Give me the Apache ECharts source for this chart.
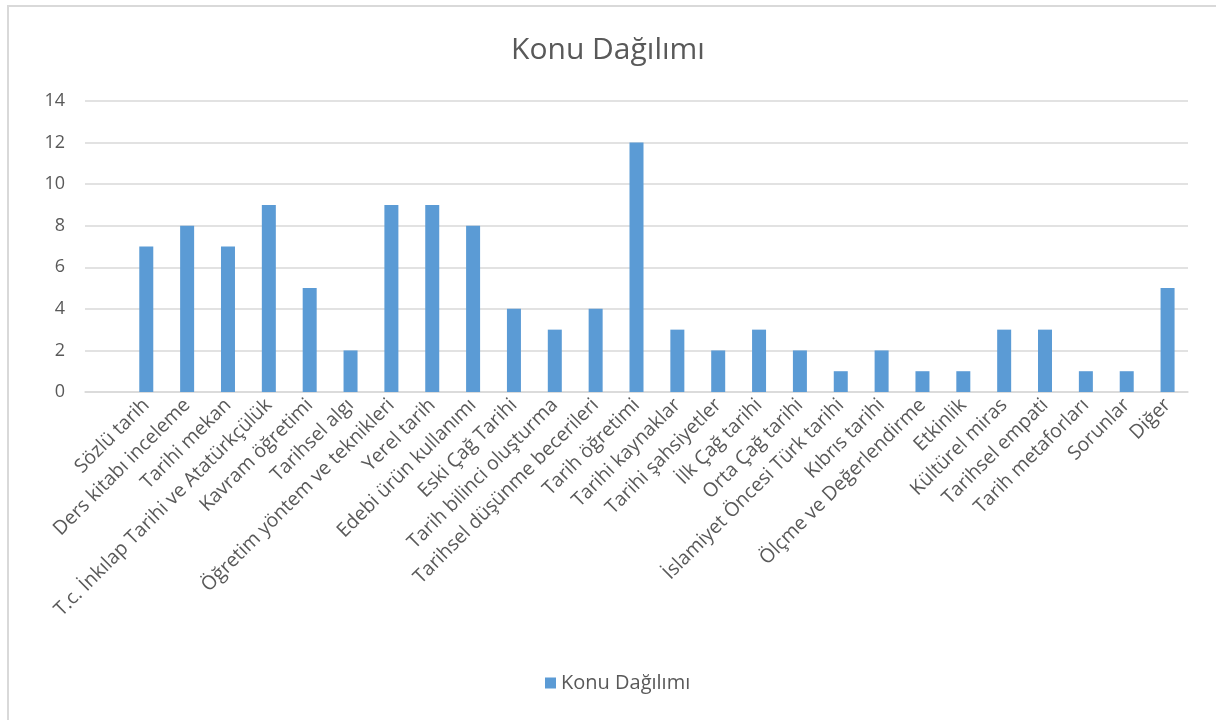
<!DOCTYPE html>
<html>
<head>
<meta charset="utf-8">
<script src="https://cdn.jsdelivr.net/npm/echarts@6/dist/echarts.min.js"></script>
<style>
	html, body { margin: 0; padding: 0; background: #fff; }
	.frame {
		position: absolute;
		left: 7px;
		top: 5px;
		width: 1220px;
		height: 730px;
		border: 2px solid #d9d9d9;
		box-sizing: border-box;
	}
	#chart { position: absolute; left: 0; top: 0; width: 1216px; height: 720px; }
</style>
</head>
<body>
<div class="frame"></div>
<div id="chart"></div>
<script>
// first slot is empty in the source sheet
const categories = [
	"",
	"Sözlü tarih",
	"Ders kitabı inceleme",
	"Tarihi mekan",
	"T.c. İnkılap Tarihi ve Atatürkçülük",
	"Kavram öğretimi",
	"Tarihsel algı",
	"Öğretim yöntem ve teknikleri",
	"Yerel tarih",
	"Edebi ürün kullanımı",
	"Eski Çağ Tarihi",
	"Tarih bilinci oluşturma",
	"Tarihsel düşünme becerileri",
	"Tarih öğretimi",
	"Tarihi kaynaklar",
	"Tarihi şahsiyetler",
	"İlk Çağ tarihi",
	"Orta Çağ tarihi",
	"İslamiyet Öncesi Türk tarihi",
	"Kıbrıs tarihi",
	"Ölçme ve Değerlendirme",
	"Etkinlik",
	"Kültürel miras",
	"Tarihsel empati",
	"Tarih metaforları",
	"Sorunlar",
	"Diğer"
];
const values = [null, 7, 8, 7, 9, 5, 2, 9, 9, 8, 4, 3, 4, 12, 3, 2, 3, 2, 1, 2, 1, 1, 3, 3, 1, 1, 5];
const seriesName = "Konu Dağılımı";
const yMin = 0, yMax = 14, yStep = 2;

let chart = echarts.init(document.getElementById("chart"));
chart.setOption({
	animation: false,
	textStyle: { fontFamily: "Open Sans" },
	title: {
		text: "Konu Dağılımı",
		left: "center",
		top: 30,
		textStyle: { fontSize: 30, fontWeight: "normal", color: "#595959", fontFamily: "Open Sans" }
	},
	legend: {
		bottom: 22,
		left: 540,
		data: [seriesName],
		icon: "rect",
		itemWidth: 11,
		itemHeight: 11,
		itemGap: 8,
		textStyle: { fontSize: 20, color: "#595959" }
	},
	grid: {
		left: 85,
		right: 28,
		top: 101,
		bottom: 328
	},
	xAxis: {
		type: "category",
		data: categories,
		axisLine: { lineStyle: { color: "#d9d9d9", width: 1.5 } },
		axisTick: { show: false },
		axisLabel: {
			interval: 0,
			rotate: 45,
			margin: 10,
			fontSize: 19.5,
			color: "#595959"
		}
	},
	yAxis: {
		type: "value",
		min: yMin,
		max: yMax,
		interval: yStep,
		axisLine: { show: false },
		axisTick: { show: false },
		axisLabel: { fontSize: 18, color: "#595959", margin: 20 },
		splitLine: { lineStyle: { color: "#d9d9d9", width: 1.5 } }
	},
	series: [
		{
			name: seriesName,
			type: "bar",
			data: values,
			barWidth: 14,
			itemStyle: { color: "#5b9bd5" }
		}
	]
});
</script>
</body>
</html>
